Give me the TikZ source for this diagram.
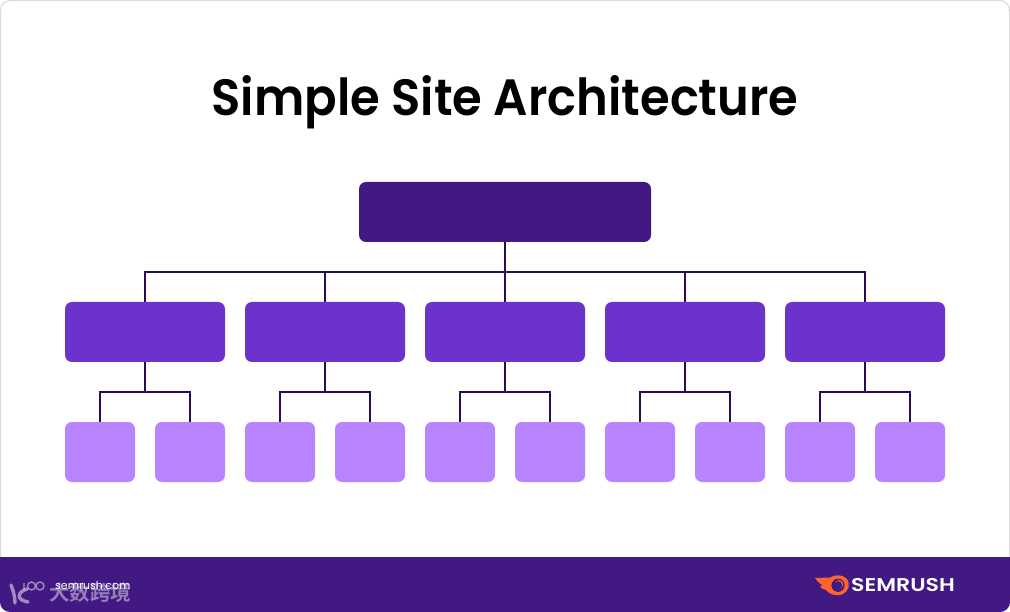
\documentclass[tikz,border=0pt]{standalone}
\usepackage{fontspec}
\setmainfont{Poppins}
\newfontfamily\titlefont{Poppins}[UprightFont=* SemiBold]
\newfontfamily\logofont{Poppins}[UprightFont=* SemiBold]
\newfontfamily\cjkfont{Noto Sans CJK SC}[UprightFont=* Bold]
\definecolor{topc}{HTML}{421983}
\definecolor{midc}{HTML}{6C33CC}
\definecolor{lowc}{HTML}{B884FF}
\definecolor{linec}{HTML}{2B0B57}
\definecolor{edgec}{HTML}{D9D9D9}
\definecolor{flame}{HTML}{FF642D}
\tikzset{
  box/.style={rounded corners=7pt,inner sep=0pt,outer sep=0pt,draw=none},
  topbox/.style={box,fill=topc,minimum width=292pt,minimum height=60pt},
  midbox/.style={box,fill=midc,minimum width=160pt,minimum height=60pt},
  lowbox/.style={box,fill=lowc,minimum width=70pt,minimum height=60pt},
  link/.style={draw=linec,line width=2pt},
  mark text/.style={white,opacity=.45,inner sep=0pt}
}
\begin{document}
\begin{tikzpicture}[x=1pt,y=-1pt]
\useasboundingbox (0,0) rectangle (1010,612);
\fill[white] (0,0) rectangle (1010,612);
\draw[edgec,line width=1pt,rounded corners=10pt] (.5,.5) rectangle (1009.5,611.5);
\fill[topc,rounded corners=10pt] (0,557) -- (1010,557) -- (1010,612) -- (0,612) -- cycle;
\fill[topc] (0,557) rectangle (1010,575);
\node[inner sep=0pt,anchor=base,xscale=.942] (title) at (505,115.5) {\titlefont\fontsize{51}{60}\selectfont Simple Site Architecture};
\node[topbox] (top) at (505,212) {};
\foreach \i/\x in {1/145,2/325,3/505,4/685,5/865}{
  \node[midbox] (m\i) at (\x,332) {};
  \node[lowbox] (a\i) at (\x-45,452) {};
  \node[lowbox] (b\i) at (\x+45,452) {};
  \draw[link] (top.south) -- ++(0,30) -| (m\i.north);
  \draw[link] (m\i.south) -- ++(0,30) -| (a\i.north);
  \draw[link] (m\i.south) -- ++(0,30) -| (b\i.north);
}
% footer text and watermark
\node[mark text,anchor=west] (cn) at (49,593) {\cjkfont\fontsize{20.5}{24}\selectfont 大数跨境};
\node[white,inner sep=0pt,anchor=west] (site) at (55,585) {\fontsize{11}{14}\selectfont semrush.com};
\begin{scope}[white,opacity=.5]
  \draw[line width=3.4pt,line cap=round] (11,585) .. controls (13,590) and (15,596) .. (15,603);
  \draw[line width=3.4pt,line cap=round] (27,589) .. controls (17,592) and (16,600) .. (28,602);
  \draw[line width=1.4pt] (24,583) -- (24,590)
    (31.5,586) circle (4pt) (40,586) circle (4pt);
\end{scope}
% brand mark
\fill[flame] (815,578) -- (830,577.5) .. controls (835,574.5) and (842,574.5) .. (846,578)
  .. controls (851,583) and (849,591) .. (843,594)
  .. controls (836,597) and (829,594) .. (826,590)
  .. controls (823,590) and (821,588) .. (820,586) -- (823,585.5)
  .. controls (820,584) and (817,581) .. cycle;
\fill[topc] (838,585.3) circle (6.6pt);
\fill[flame] (839,584.3) circle (4.2pt);
\fill[topc] (838.2,585.1) circle (3.9pt);
\node[white,inner sep=0pt,anchor=center,xscale=1.19] (brand) at (903,585.5) {\logofont\fontsize{18.5}{22}\selectfont SEMRUSH};
\end{tikzpicture}
\end{document}
